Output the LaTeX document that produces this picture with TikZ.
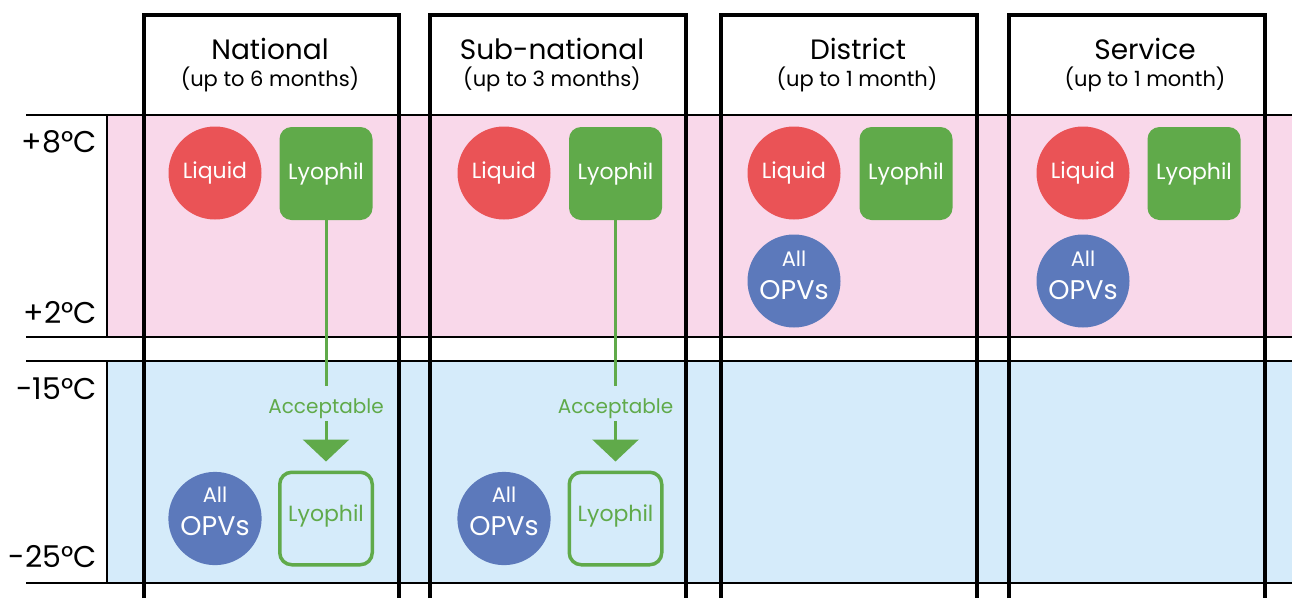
\documentclass[tikz,border=0pt]{standalone}
\usepackage{fontspec}
\setmainfont{Poppins}
\usetikzlibrary{arrows.meta}
\definecolor{pinkbg}{RGB}{249,216,234}
\definecolor{bluebg}{RGB}{213,235,250}
\definecolor{liqred}{RGB}{234,83,86}
\definecolor{lyogreen}{RGB}{96,170,74}
\definecolor{opvblue}{RGB}{92,121,187}
\begin{document}
\begin{tikzpicture}[x=1pt,y=-1pt,
  thinrule/.style={line width=2pt},
  colrule/.style={line width=4pt},
  liquid/.style={circle, fill=liqred, minimum size=93pt, inner sep=0pt, text=white, font=\fontsize{22}{26}\selectfont},
  lyo/.style={rectangle, rounded corners=12pt, fill=lyogreen, minimum size=93pt, inner sep=0pt, text=white, font=\fontsize{22}{26}\selectfont},
  lyoout/.style={rectangle, rounded corners=12pt, draw=lyogreen, line width=3.5pt, minimum size=92.5pt, inner sep=0pt, text=lyogreen, font=\fontsize{22}{26}\selectfont},
  opv/.style={circle, fill=opvblue, minimum size=93pt, inner sep=0pt, text=white, align=center, font=\fontsize{21}{33}\selectfont},
  hdr/.style={anchor=base, inner sep=0pt, font=\fontsize{28}{32}\selectfont},
  subhdr/.style={anchor=base, inner sep=0pt, font=\fontsize{21}{24}\selectfont},
  temp/.style={anchor=base east, inner sep=0pt, font=\fontsize{30}{34}\selectfont},
  acc/.style={anchor=base, inner xsep=0pt, inner ysep=0pt, text height=27pt, text depth=8pt, text=lyogreen, font=\fontsize{20}{24}\selectfont},
  accline/.style={draw=lyogreen, line width=3pt},
]
\useasboundingbox (0,0) rectangle (1292,598);
% bands
\fill[pinkbg] (107,115) rectangle (1292,337);
\fill[bluebg] (107,361) rectangle (1292,583);
% header backgrounds
\fill[white] (144,15) rectangle (399,115);
\fill[white] (430,15) rectangle (686,115);
\fill[white] (721,15) rectangle (977,115);
\fill[white] (1009,15) rectangle (1265,115);
% thin rules
\draw[thinrule] (26,115) -- (1292,115);
\draw[thinrule] (26,337) -- (1292,337);
\draw[thinrule] (26,361) -- (1292,361);
\draw[thinrule] (26,583) -- (1292,583);
\draw[thinrule] (107,115) -- (107,337);
\draw[thinrule] (107,361) -- (107,583);
% columns
\draw[colrule] (144,598) -- (144,15) -- (399,15) -- (399,598);
\draw[colrule] (430,598) -- (430,15) -- (686,15) -- (686,598);
\draw[colrule] (721,598) -- (721,15) -- (977,15) -- (977,598);
\draw[colrule] (1009,598) -- (1009,15) -- (1265,15) -- (1265,598);
% headers
\node[hdr] (hN) at (270,59) {National};
\node[subhdr] (sN) at (270,86) {(up to 6 months)};
\node[hdr] (hS) at (552,59) {Sub-national};
\node[subhdr] (sS) at (552,86) {(up to 3 months)};
\node[hdr] (hD) at (858,59) {District};
\node[subhdr] (sD) at (857,86) {(up to 1 month)};
\node[hdr] (hV) at (1145,59) {Service};
\node[subhdr] (sV) at (1145,86) {(up to 1 month)};
% temperatures
\node[temp] (t8) at (97,152) {+8°C};
\node[temp] (t2) at (97,323) {+2°C};
\node[temp] (t15) at (97,399) {-15°C};
\node[temp] (t25) at (97,567) {-25°C};
% National
\node[liquid] (liqN) at (215,173) {Liquid};
\node[lyo] (lyoN) at (326,173.5) {Lyophil};
\node[opv] (opvN) at (215,518.5) {All\\{\fontsize{27}{33}\selectfont OPVs}\rule[-14pt]{0pt}{14pt}};
\node[lyoout] (lyoNb) at (326,518.5) {Lyophil\rule[-10pt]{0pt}{10pt}};
\node[acc] (accN) at (326,413) {Acceptable};
\draw[accline] (lyoN.south) -- (accN.north);
\draw[accline, -{Triangle[width=46pt,length=22pt]}, shorten >=9pt] (accN.south) -- (lyoNb.north);
% Sub-national
\node[liquid] (liqS) at (504,173) {Liquid};
\node[lyo] (lyoS) at (615.5,173.5) {Lyophil};
\node[opv] (opvS) at (504,518.5) {All\\{\fontsize{27}{33}\selectfont OPVs}\rule[-14pt]{0pt}{14pt}};
\node[lyoout] (lyoSb) at (615.5,518.5) {Lyophil\rule[-10pt]{0pt}{10pt}};
\node[acc] (accS) at (615.5,413) {Acceptable};
\draw[accline] (lyoS.south) -- (accS.north);
\draw[accline, -{Triangle[width=46pt,length=22pt]}, shorten >=9pt] (accS.south) -- (lyoSb.north);
% District
\node[liquid] (liqD) at (794,173) {Liquid};
\node[lyo] (lyoD) at (906,173.5) {Lyophil};
\node[opv] (opvD) at (794,281) {All\\{\fontsize{27}{33}\selectfont OPVs}\rule[-11pt]{0pt}{11pt}};
% Service
\node[liquid] (liqV) at (1083,173) {Liquid};
\node[lyo] (lyoV) at (1194,173.5) {Lyophil};
\node[opv] (opvV) at (1083,281) {All\\{\fontsize{27}{33}\selectfont OPVs}\rule[-11pt]{0pt}{11pt}};
\end{tikzpicture}
\end{document}
